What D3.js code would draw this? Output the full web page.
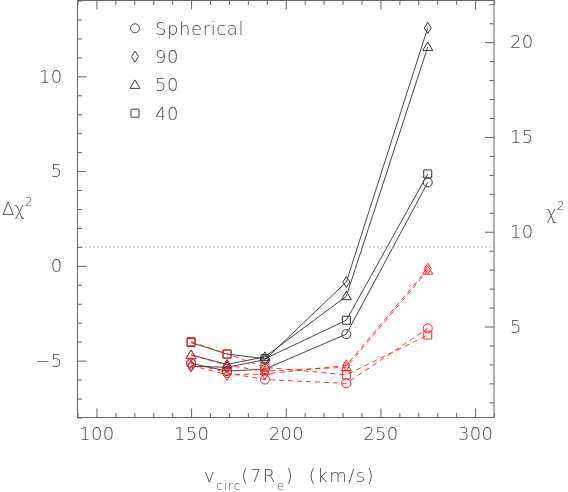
<!DOCTYPE html>
<html>
<head>
<meta charset="utf-8">
<script src="https://cdn.jsdelivr.net/npm/d3@7"></script>
<style>
  body { margin: 0; background: #fff; }
  svg { will-change: transform; }
  svg text { font-family: "DejaVu Sans", sans-serif; font-weight: 200; fill: #4a4a4a; }
</style>
</head>
<body>
<div class="container"></div>
<script>
// circular velocity at 7 Re (km/s)
const vcirc = [150, 169, 189, 232, 275];

// black solid curves (delta chi^2)
const sphBlack = [-5.15, -5.55, -5.45, -3.6, 4.4];
const d90Black = [-5.3, -5.35, -4.95, -0.85, 12.55];
const d50Black = [-4.7, -5.2, -4.8, -1.6, 11.55];
const d40Black = [-4.05, -4.65, -4.9, -2.87, 4.85];

// red dashed curves
const sphRed = [-5.1, -5.65, -6.0, -6.2, -3.3];
const d90Red = [-5.25, -5.75, -5.7, -5.25, -0.15];
const d50Red = [-4.7, -5.25, -5.55, -5.35, -0.25];
const d40Red = [-4.0, -4.65, -5.35, -5.75, -3.65];

const legendLabels = ['Spherical', '90', '50', '40'];
const symbolNames = ['circle', 'diamond', 'triangle', 'square'];

const xTicks = [100, 150, 200, 250, 300];
const yTicks = [-5, 0, 5, 10];
const y2Ticks = [5, 10, 15, 20];
const chiOffset = 8.2;   // chi^2 = delta chi^2 + offset
const refLevel = 1;

const w = 568, h = 492;
const L = 77.5, R = 494, T = 0.5, B = 417.5;

const svg = d3.select('.container')
  .append('svg')
  .attr('width', w)
  .attr('height', h);

const x = d3.scaleLinear().domain([90, 310]).range([L, R]);
const y = d3.scaleLinear().domain([-8, 14]).range([B, T]);
const y2 = d3.scaleLinear().domain([-8 + chiOffset, 14 + chiOffset]).range([B, T]);

function symbolPath(name) {
  if (name == 'circle') return 'M4.5,0A4.5,4.5 0 1,1 -4.5,0A4.5,4.5 0 1,1 4.5,0Z';
  if (name == 'square') return 'M-4,-4H4V4H-4Z';
  if (name == 'triangle') return 'M0,-5L5,3.5H-5Z';
  return 'M0,-5.5L3.5,0L0,5.5L-3.5,0Z';
}

// axes: ticks pointing inward, frame drawn separately
function styleAxis(g) {
  g.select('.domain').remove();
  g.selectAll('line').attr('stroke', '#666');
  g.selectAll('text').attr('font-size', 18).attr('fill', '#4a4a4a')
    .attr('font-family', '"DejaVu Sans", sans-serif').attr('font-weight', 200)
    .attr('letter-spacing', 0.3);
}

const minorX = d3.range(90, 311, 10).filter(v => v % 50 != 0);
const minorY = d3.range(-8, 15, 1).filter(v => v % 5 != 0);
const minorY2 = d3.range(1, 23, 1).filter(v => v % 5 != 0);

svg.append('g').attr('transform', `translate(0,${B})`)
  .call(d3.axisBottom(x).tickValues(xTicks).tickSize(-9).tickPadding(10))
  .call(styleAxis);
svg.append('g').attr('transform', `translate(0,${B})`)
  .call(d3.axisBottom(x).tickValues(minorX).tickSize(-4.5).tickFormat(''))
  .call(styleAxis);
svg.append('g').attr('transform', `translate(0,${T})`)
  .call(d3.axisTop(x).tickValues(xTicks).tickSize(-9).tickFormat(''))
  .call(styleAxis);
svg.append('g').attr('transform', `translate(0,${T})`)
  .call(d3.axisTop(x).tickValues(minorX).tickSize(-4.5).tickFormat(''))
  .call(styleAxis);

svg.append('g').attr('transform', `translate(${L},0)`)
  .call(d3.axisLeft(y).tickValues(yTicks).tickSize(-9).tickPadding(15)
    .tickFormat(d => d < 0 ? '\u2212' + Math.abs(d) : d))
  .call(styleAxis);
svg.append('g').attr('transform', `translate(${L},0)`)
  .call(d3.axisLeft(y).tickValues(minorY).tickSize(-4.5).tickFormat(''))
  .call(styleAxis);

svg.append('g').attr('transform', `translate(${R},0)`)
  .call(d3.axisRight(y2).tickValues(y2Ticks).tickSize(-9).tickPadding(16))
  .call(styleAxis);
svg.append('g').attr('transform', `translate(${R},0)`)
  .call(d3.axisRight(y2).tickValues(minorY2).tickSize(-4.5).tickFormat(''))
  .call(styleAxis);

svg.append('rect')
  .attr('x', L).attr('y', T)
  .attr('width', R - L).attr('height', B - T)
  .attr('fill', 'none')
  .attr('stroke', '#666');

// reference level
svg.append('line')
  .attr('x1', L).attr('x2', R)
  .attr('y1', y(refLevel)).attr('y2', y(refLevel))
  .attr('stroke', '#777')
  .attr('stroke-dasharray', '1,3');

const blackSeries = [sphBlack, d90Black, d50Black, d40Black];
const redSeries = [sphRed, d90Red, d50Red, d40Red];

const line = d3.line().x((d, i) => x(vcirc[i])).y(d => y(d));

function drawSeries(series, color, dash) {
  series.forEach((vals, k) => {
    svg.append('path')
      .attr('d', line(vals))
      .attr('fill', 'none')
      .attr('stroke', color)
      .attr('stroke-width', 0.9)
      .attr('stroke-dasharray', dash);
    svg.selectAll(null)
      .data(vals)
      .enter()
      .append('path')
      .attr('d', symbolPath(symbolNames[k]))
      .attr('transform', (d, i) => `translate(${x(vcirc[i])},${y(d)})`)
      .attr('fill', 'none')
      .attr('stroke', color)
      .attr('stroke-width', 1);
  });
}

drawSeries(blackSeries, '#333', null);
drawSeries(redSeries, '#f22', '5,4');

// legend
const legend = svg.append('g');
legendLabels.forEach((lab, k) => {
  const ly = 28.3 + k * 28.3;
  legend.append('path')
    .attr('d', symbolPath(symbolNames[k]))
    .attr('transform', `translate(135,${ly})`)
    .attr('fill', 'none')
    .attr('stroke', '#444');
  legend.append('text')
    .attr('x', 155).attr('y', ly + 6.5)
    .attr('font-size', 18)
    .attr('letter-spacing', 0.6)
    .text(lab);
});

// axis titles
const lt = svg.append('text').attr('x', 2).attr('y', 215).attr('font-size', 18);
lt.append('tspan').text('\u0394\u03c7');
lt.append('tspan').attr('font-size', 12).attr('dy', -9).text('2');

const rt = svg.append('text').attr('x', 546).attr('y', 219).attr('font-size', 18);
rt.append('tspan').text('\u03c7');
rt.append('tspan').attr('font-size', 12).attr('dy', -9).text('2');

const xt = svg.append('text').attr('x', 204).attr('y', 482).attr('font-size', 18)
  .attr('letter-spacing', 1.5);
xt.append('tspan').text('v');
xt.append('tspan').attr('font-size', 12).attr('letter-spacing', 1).attr('dy', 8).text('circ');
xt.append('tspan').attr('dy', -8).text('(7R');
xt.append('tspan').attr('font-size', 12).attr('dy', 8).text('e');
xt.append('tspan').attr('dy', -8).text(')\u00a0\u00a0(km/s)');
</script>
</body>
</html>
